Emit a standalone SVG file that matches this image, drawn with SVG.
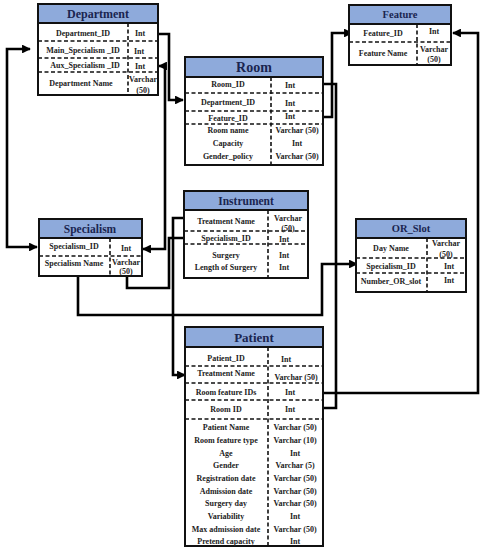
<svg xmlns="http://www.w3.org/2000/svg" width="485" height="550" viewBox="0 0 485 550">
<style>
.box{fill:#fff;stroke:#111;stroke-width:2}
.hdr{fill:#8EAADB;stroke:#111;stroke-width:2}
.ht{font-family:"Liberation Serif",serif;font-weight:bold;fill:#1a2550;text-anchor:middle}
.t{font-family:"Liberation Serif",serif;font-weight:bold;font-size:8px;fill:#222;text-anchor:middle}
.d{stroke:#111;stroke-width:1.6;stroke-dasharray:4 2.5;fill:none}
.c{fill:none;stroke:#000;stroke-width:2.6}
</style>
<defs>
<marker id="a" viewBox="0 0 10 10" refX="9" refY="5" markerWidth="3.4" markerHeight="3.4" orient="auto-start-reverse" markerUnits="strokeWidth">
<path d="M0,0 L10,5 L0,10 z" fill="#000"/>
</marker>
</defs>

<g id="connectors">
<path class="c" d="M155,34 H169 V100 H183" marker-end="url(#a)"/>
<path class="c" d="M159,66 H165 V249 H143" marker-start="url(#a)" marker-end="url(#a)"/>
<path class="c" d="M30,49 H7 V247 H37" marker-start="url(#a)" marker-end="url(#a)"/>
<path class="c" d="M184,218 H173 V375 H185" marker-end="url(#a)"/>
<path class="c" d="M127,277 V288 H169 V238 H193" marker-end="url(#a)"/>
<path class="c" d="M78,273 V315 H322 V264 H357" marker-end="url(#a)"/>
<path class="c" d="M307,84 H336 V408 H307" marker-end="url(#a)"/>
<path class="c" d="M308,117 H332 V33 H352" marker-start="url(#a)" marker-end="url(#a)"/>
<path class="c" d="M453,33 H478 V393 H308" marker-start="url(#a)" marker-end="url(#a)"/>
</g>

<g id="department">
<rect class="box" x="38" y="4" width="120" height="91"/>
<rect class="hdr" x="38" y="4" width="120" height="19"/>
<text class="ht" x="98" y="18" font-size="12">Department</text>
<line class="d" x1="128" y1="23" x2="128" y2="95"/>
<line class="d" x1="38" y1="41" x2="158" y2="41"/>
<line class="d" x1="38" y1="58" x2="158" y2="58"/>
<line class="d" x1="38" y1="72" x2="158" y2="72"/>
<text class="t" x="83" y="36">Department_ID</text><text class="t" x="140" y="36">Int</text>
<text class="t" x="83" y="53">Main_Specialism _ID</text><text class="t" x="139" y="54">Int</text>
<text class="t" x="85" y="68">Aux_Specialism _ID</text><text class="t" x="140" y="69">Int</text>
<text class="t" x="81" y="86">Department Name</text><text class="t" x="143" y="82">Varchar</text><text class="t" x="143" y="93">(50)</text>
</g>

<g id="room">
<rect class="box" x="185" y="57" width="138" height="108"/>
<rect class="hdr" x="185" y="57" width="138" height="20"/>
<text class="ht" x="254" y="72" font-size="14">Room</text>
<line class="d" x1="271" y1="77" x2="271" y2="165"/>
<line class="d" x1="185" y1="93" x2="323" y2="93"/>
<line class="d" x1="185" y1="111" x2="323" y2="111"/>
<line class="d" x1="185" y1="124" x2="323" y2="124"/>
<text class="t" x="228" y="87">Room_ID</text><text class="t" x="290" y="88">Int</text>
<text class="t" x="228" y="105">Department_ID</text><text class="t" x="290" y="106">Int</text>
<text class="t" x="228" y="121">Feature_ID</text><text class="t" x="290" y="119">Int</text>
<text class="t" x="228" y="133">Room name</text><text class="t" x="297" y="133">Varchar (50)</text>
<text class="t" x="228" y="146">Capacity</text><text class="t" x="297" y="146">Int</text>
<text class="t" x="228" y="159">Gender_policy</text><text class="t" x="297" y="159">Varchar (50)</text>
</g>

<g id="feature">
<rect class="box" x="349" y="5" width="102" height="60"/>
<rect class="hdr" x="349" y="5" width="102" height="19"/>
<text class="ht" x="400" y="18" font-size="10.5">Feature</text>
<line class="d" x1="417" y1="24" x2="417" y2="65"/>
<line class="d" x1="349" y1="42" x2="451" y2="42"/>
<text class="t" x="383" y="36">Feature_ID</text><text class="t" x="434" y="34">Int</text>
<text class="t" x="383" y="56">Feature Name</text><text class="t" x="434" y="52">Varchar</text><text class="t" x="434" y="62">(50)</text>
</g>

<g id="specialism">
<rect class="box" x="39" y="219" width="103" height="57"/>
<rect class="hdr" x="39" y="219" width="103" height="19"/>
<text class="ht" x="90" y="233" font-size="11.5">Specialism</text>
<line class="d" x1="110" y1="238" x2="110" y2="276"/>
<line class="d" x1="39" y1="256" x2="142" y2="256"/>
<text class="t" x="74" y="249">Specialism_ID</text><text class="t" x="126" y="251">Int</text>
<text class="t" x="74" y="266">Specialism Name</text><text class="t" x="126" y="265">Varchar</text><text class="t" x="126" y="274">(50)</text>
</g>

<g id="instrument">
<rect class="box" x="184" y="191" width="124" height="87"/>
<rect class="hdr" x="184" y="191" width="124" height="19"/>
<text class="ht" x="246" y="205" font-size="11.5">Instrument</text>
<line class="d" x1="268" y1="210" x2="268" y2="278"/>
<line class="d" x1="184" y1="231" x2="308" y2="231"/>
<line class="d" x1="184" y1="244" x2="308" y2="244"/>
<text class="t" x="226" y="224">Treatment Name</text><text class="t" x="288" y="221">Varchar</text><text class="t" x="288" y="231">(50)</text>
<text class="t" x="226" y="241">Specialism_ID</text><text class="t" x="284" y="242">Int</text>
<text class="t" x="226" y="258">Surgery</text><text class="t" x="284" y="258">Int</text>
<text class="t" x="226" y="270">Length of Surgery</text><text class="t" x="284" y="270">Int</text>
</g>

<g id="or_slot">
<rect class="box" x="356" y="219" width="110" height="73"/>
<rect class="hdr" x="356" y="219" width="110" height="19"/>
<text class="ht" x="411" y="232" font-size="10.5">OR_Slot</text>
<line class="d" x1="427" y1="238" x2="427" y2="292"/>
<line class="d" x1="356" y1="258" x2="466" y2="258"/>
<line class="d" x1="356" y1="273" x2="466" y2="273"/>
<text class="t" x="391" y="251">Day Name</text><text class="t" x="446" y="246">Varchar</text><text class="t" x="446" y="257">(50)</text>
<text class="t" x="391" y="269">Specialism_ID</text><text class="t" x="449" y="269">Int</text>
<text class="t" x="391" y="284">Number_OR_slot</text><text class="t" x="449" y="283">Int</text>
</g>

<g id="patient">
<rect class="box" x="185" y="327" width="138" height="219"/>
<rect class="hdr" x="185" y="327" width="138" height="20"/>
<text class="ht" x="254" y="342" font-size="13">Patient</text>
<line class="d" x1="268" y1="347" x2="268" y2="546"/>
<line class="d" x1="185" y1="366" x2="323" y2="366"/>
<line class="d" x1="185" y1="383" x2="323" y2="383"/>
<line class="d" x1="185" y1="400" x2="323" y2="400"/>
<line class="d" x1="185" y1="419" x2="323" y2="419"/>
<text class="t" x="226" y="361">Patient_ID</text><text class="t" x="286" y="362">Int</text>
<text class="t" x="226" y="376">Treatment Name</text><text class="t" x="296" y="380">Varchar (50)</text>
<text class="t" x="226" y="395">Room feature IDs</text><text class="t" x="290" y="395">Int</text>
<text class="t" x="226" y="412">Room ID</text><text class="t" x="290" y="412">Int</text>
<text class="t" x="226" y="430">Patient Name</text><text class="t" x="295" y="430">Varchar (50)</text>
<text class="t" x="226" y="443">Room feature type</text><text class="t" x="295" y="443">Varchar (10)</text>
<text class="t" x="226" y="456">Age</text><text class="t" x="295" y="456">Int</text>
<text class="t" x="226" y="468">Gender</text><text class="t" x="295" y="468">Varchar (5)</text>
<text class="t" x="226" y="481">Registration date</text><text class="t" x="295" y="481">Varchar (50)</text>
<text class="t" x="226" y="494">Admission date</text><text class="t" x="295" y="494">Varchar (50)</text>
<text class="t" x="226" y="506">Surgery day</text><text class="t" x="295" y="506">Varchar (50)</text>
<text class="t" x="226" y="519">Variability</text><text class="t" x="295" y="519">Int</text>
<text class="t" x="226" y="532">Max admission date</text><text class="t" x="295" y="532">Varchar (50)</text>
<text class="t" x="226" y="544">Pretend capacity</text><text class="t" x="295" y="544">Int</text>
</g>
</svg>
